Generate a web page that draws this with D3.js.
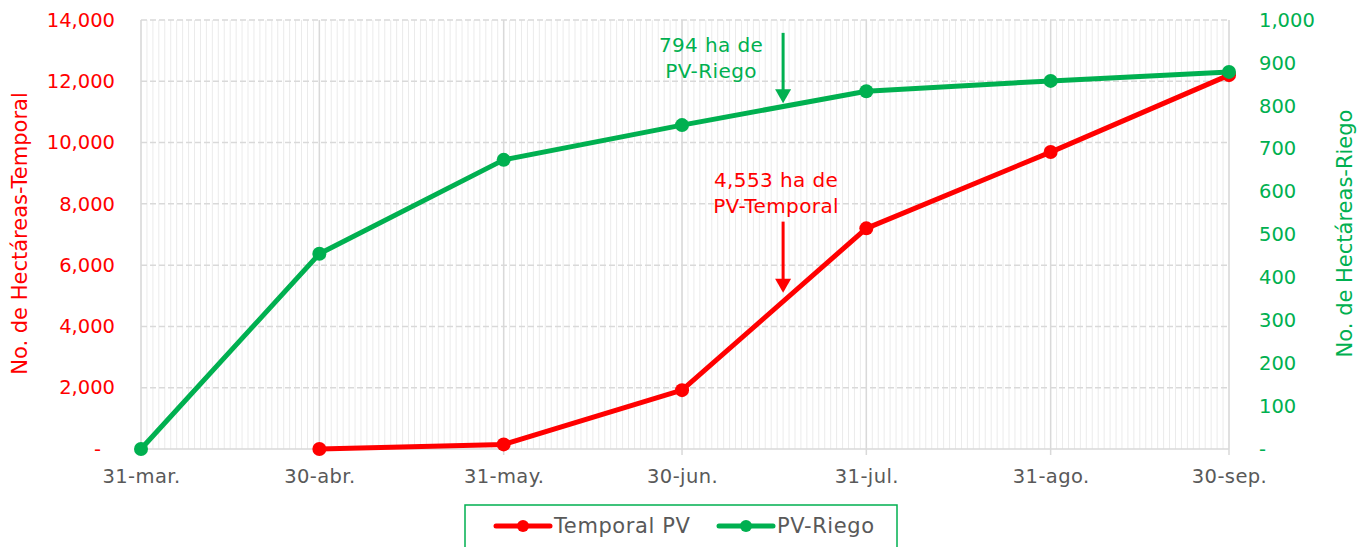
<!DOCTYPE html>
<html>
<head>
<meta charset="utf-8">
<script src="https://cdnjs.cloudflare.com/ajax/libs/d3/7.8.5/d3.min.js"></script>
<style>
  body { margin: 0; background: #fff; }
  text { font-family: "DejaVu Sans", sans-serif; }
</style>
</head>
<body>
<div id="chart"></div>
<script>
// Data
var tickDates = ["2020-03-31", "2020-04-30", "2020-05-31", "2020-06-30", "2020-07-31", "2020-08-31", "2020-09-30"];
var tickLabels = ["31-mar.", "30-abr.", "31-may.", "30-jun.", "31-jul.", "31-ago.", "30-sep."];
var temporalDates = ["2020-04-30", "2020-05-31", "2020-06-30", "2020-07-31", "2020-08-31", "2020-09-30"];
var temporalValues = [0, 150, 1920, 7200, 9690, 12200];
var riegoDates = ["2020-03-31", "2020-04-30", "2020-05-31", "2020-06-30", "2020-07-31", "2020-08-31", "2020-09-30"];
var riegoValues = [0, 455, 674, 755, 834, 858, 879];
var leftTicks = [0, 2000, 4000, 6000, 8000, 10000, 12000, 14000];
var rightTicks = [0, 100, 200, 300, 400, 500, 600, 700, 800, 900, 1000];
// annotation arrows: date, tail value, tip value (own axis)
var riegoNote = {date: "2020-07-17", from: 970, to: 806, lines: ["794 ha de", "PV-Riego"]};
var temporalNote = {date: "2020-07-17", from: 7420, to: 5100, lines: ["4,553 ha de", "PV-Temporal"]};

var red = "#ff0000", green = "#00b050", gray = "#595959";
var parse = d3.timeParse("%Y-%m-%d");

var W = 1366, H = 547;
var margin = {top: 20, left: 141, right: 137, bottom: 98};
var width = W - margin.left - margin.right;
var height = H - margin.top - margin.bottom;

var svg = d3.select("#chart").append("svg")
    .attr("width", W).attr("height", H);
var g = svg.append("g")
    .attr("transform", "translate(" + margin.left + "," + margin.top + ")");

var x = d3.scaleTime()
    .domain([parse(tickDates[0]), parse(tickDates[tickDates.length - 1])])
    .range([0, width]);
var yL = d3.scaleLinear().domain([0, 14000]).range([height, 0]);
var yR = d3.scaleLinear().domain([0, 1000]).range([height, 0]);

// minor daily gridlines
var days = d3.timeDay.range(x.domain()[0], d3.timeDay.offset(x.domain()[1], 1));
g.append("g").selectAll("line").data(days).join("line")
    .attr("x1", function(d) { return x(d); }).attr("x2", function(d) { return x(d); })
    .attr("y1", 0).attr("y2", height)
    .attr("stroke", "#ebebeb").attr("stroke-width", 1);

// horizontal dashed gridlines
g.append("g").selectAll("line").data(leftTicks.slice(1)).join("line")
    .attr("x1", 0).attr("x2", width)
    .attr("y1", function(d) { return yL(d); }).attr("y2", function(d) { return yL(d); })
    .attr("stroke", "#d9d9d9").attr("stroke-width", 1.5)
    .style("stroke-dasharray", "6,3");

// major vertical gridlines
g.append("g").selectAll("line").data(tickDates).join("line")
    .attr("x1", function(d) { return x(parse(d)); }).attr("x2", function(d) { return x(parse(d)); })
    .attr("y1", 0).attr("y2", height + 6)
    .attr("stroke", "#d9d9d9").attr("stroke-width", 1.5);

// baseline
g.append("line")
    .attr("x1", 0).attr("x2", width).attr("y1", height).attr("y2", height)
    .attr("stroke", "#d9d9d9").attr("stroke-width", 1.5);

// axes
var fmt = function(d) { return d === 0 ? "-" : d3.format(",")(d); };
var leftAxis = g.append("g").call(d3.axisLeft(yL).tickValues(leftTicks).tickFormat(fmt).tickSize(0).tickPadding(26));
leftAxis.select(".domain").remove();
leftAxis.selectAll("text").attr("fill", red).style("font-size", "19.5px")
    .attr("x", function(d) { return d === 0 ? -40 : -26; });

var rightAxis = g.append("g").attr("transform", "translate(" + width + ",0)")
    .call(d3.axisRight(yR).tickValues(rightTicks).tickFormat(fmt).tickSize(0).tickPadding(30));
rightAxis.select(".domain").remove();
rightAxis.selectAll("text").attr("fill", green).style("font-size", "19.5px");

var xAxis = g.append("g").attr("transform", "translate(0," + height + ")")
    .call(d3.axisBottom(x).tickValues(tickDates.map(parse))
        .tickFormat(function(d, i) { return tickLabels[i]; }).tickSize(0).tickPadding(20));
xAxis.select(".domain").remove();
xAxis.selectAll("text").attr("fill", gray).style("font-size", "19.5px")
    .style("letter-spacing", "0.4px");

// axis titles
svg.append("text")
    .attr("transform", "translate(27," + (margin.top + height / 2 - 1) + ") rotate(-90)")
    .attr("text-anchor", "middle").attr("fill", red).style("font-size", "21px")
    .text("No. de Hectáreas-Temporal");
svg.append("text")
    .attr("transform", "translate(1352," + (margin.top + height / 2 - 1) + ") rotate(-90)")
    .attr("text-anchor", "middle").attr("fill", green).style("font-size", "21px")
    .text("No. de Hectáreas-Riego");

// lines
function drawSeries(dates, values, yScale, color) {
    var pts = dates.map(function(d, i) { return {date: parse(d), value: values[i]}; });
    var line = d3.line()
        .x(function(d) { return x(d.date); })
        .y(function(d) { return yScale(d.value); });
    g.append("path").datum(pts)
        .attr("d", line).attr("fill", "none")
        .attr("stroke", color).attr("stroke-width", 5)
        .attr("stroke-linejoin", "round").attr("stroke-linecap", "round");
    g.append("g").selectAll("circle").data(pts).join("circle")
        .attr("cx", function(d) { return x(d.date); })
        .attr("cy", function(d) { return yScale(d.value); })
        .attr("r", 7).attr("fill", color);
}
drawSeries(temporalDates, temporalValues, yL, red);
drawSeries(riegoDates, riegoValues, yR, green);

// annotations
function drawNote(note, yScale, color, textX, textY) {
    var ax = x(parse(note.date));
    var y1 = yScale(note.from), y2 = yScale(note.to);
    g.append("line")
        .attr("x1", ax).attr("x2", ax).attr("y1", y1).attr("y2", y2 - 12)
        .attr("stroke", color).attr("stroke-width", 3);
    g.append("path")
        .attr("d", "M" + (ax - 8) + "," + (y2 - 14) + "L" + (ax + 8) + "," + (y2 - 14) + "L" + ax + "," + y2 + "Z")
        .attr("fill", color);
    var t = g.append("text").attr("text-anchor", "middle").attr("fill", color)
        .style("font-size", "20px").style("letter-spacing", "0.4px");
    note.lines.forEach(function(l, i) {
        t.append("tspan").attr("x", ax + textX).attr("y", textY + i * 26).text(l);
    });
}
drawNote(riegoNote, yR, green, -72, 32);
drawNote(temporalNote, yL, red, -7, 167);

// legend
var lg = svg.append("g");
lg.append("rect").attr("x", 465).attr("y", 505).attr("width", 432).attr("height", 50)
    .attr("fill", "#fff").attr("stroke", green).attr("stroke-width", 1.5);
var legendItems = [{label: "Temporal PV", color: red, x: 496}, {label: "PV-Riego", color: green, x: 719}];
legendItems.forEach(function(d) {
    lg.append("line").attr("x1", d.x).attr("x2", d.x + 54).attr("y1", 526).attr("y2", 526)
        .attr("stroke", d.color).attr("stroke-width", 5).attr("stroke-linecap", "round");
    lg.append("circle").attr("cx", d.x + 27).attr("cy", 526).attr("r", 6).attr("fill", d.color);
    lg.append("text").attr("x", d.x + 58).attr("y", 533).attr("fill", gray)
        .style("font-size", "21px").style("letter-spacing", "0.6px").text(d.label);
});
</script>
</body>
</html>
